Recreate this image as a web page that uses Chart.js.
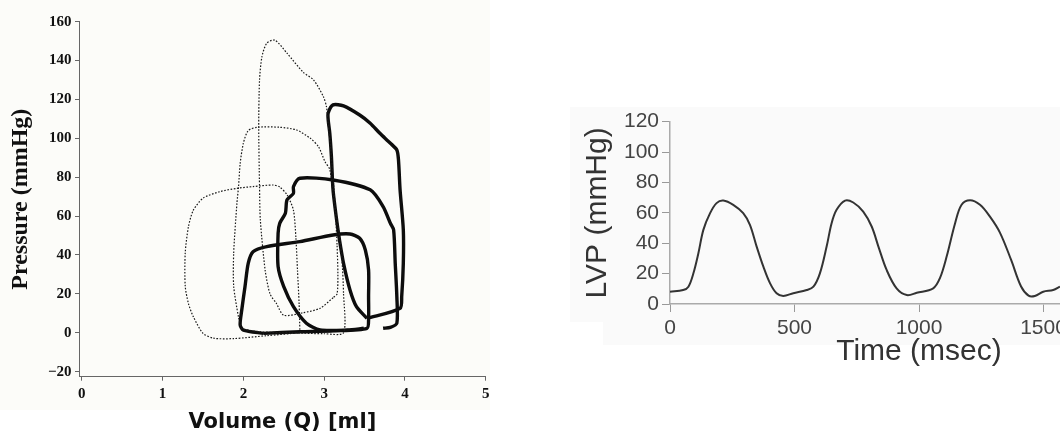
<!DOCTYPE html>
<html>
<head>
<meta charset="utf-8">
<script src="https://cdn.jsdelivr.net/npm/chart.js@4.4.1/dist/chart.umd.min.js"></script>
<style>
  html, body { margin: 0; padding: 0; width: 1060px; height: 433px; overflow: hidden; background: #ffffff; }
  .bg { position: absolute; }
  canvas { position: absolute; top: 0; }
</style>
</head>
<body>
<div class="bg" style="left:0;top:0;width:490px;height:410px;background:#fcfcf9;"></div>
<div class="bg" style="left:570px;top:107px;width:490px;height:215px;background:#fafafa;"></div>
<div class="bg" style="left:603px;top:322px;width:457px;height:23px;background:#fafafa;"></div>
<canvas id="pv" width="500" height="433" style="left:0;"></canvas>
<canvas id="lvp" width="700" height="433" style="left:560px;"></canvas>
<script>
// ---------- Left panel: pressure-volume loops ----------
const volumeTicks = [0, 1, 2, 3, 4, 5];
const pressureTicks = [-20, 0, 20, 40, 60, 80, 100, 120, 140, 160];

// thin dotted loops
const loopA_vol = [3.11, 2.95, 2.74, 2.50, 2.41, 2.33, 2.27, 2.21, 2.20, 2.19, 2.20, 2.23, 2.29, 2.39, 2.54, 2.74, 2.87, 2.99, 3.03, 3.05, 3.08, 3.11, 3.14, 3.16, 3.17, 3.16, 3.11];
const loopA_prs = [18, 12.6, 10.3, 9, 15, 20, 32, 58, 75, 106, 130, 142, 149, 150.5, 143.8, 134, 130, 121.5, 116, 107, 95, 80, 62, 45, 30, 20, 18];

const loopB_vol = [1.98, 1.94, 1.88, 1.88, 1.92, 1.94, 1.96, 2.00, 2.06, 2.17, 2.45, 2.66, 2.83, 2.93, 3.01, 3.07, 3.13, 3.18, 3.22, 3.24, 3.24, 3.00, 2.60, 2.20, 1.98];
const loopB_prs = [2, 8, 24, 41, 66.6, 75, 87, 97.5, 104, 105.7, 105.7, 104.3, 100, 95.7, 88, 84, 65, 53, 38, 20, 0, -0.5, 0, 0.5, 2];

const loopC_vol = [2.70, 2.69, 2.67, 2.65, 2.62, 2.54, 2.45, 2.37, 2.12, 1.92, 1.71, 1.50, 1.38, 1.32, 1.28, 1.28, 1.32, 1.38, 1.50, 1.63, 1.88, 2.29, 2.70];
const loopC_prs = [0, 15, 32, 49, 63, 71, 75, 76, 75.2, 74.3, 72.6, 69.2, 63, 54.6, 41, 24, 15, 8.3, -0.3, -2.8, -3, -1.5, 0];

// thick loops
const loopD_vol = [3.53, 3.94, 3.96, 3.98, 3.98, 3.94, 3.92, 3.90, 3.82, 3.69, 3.57, 3.44, 3.24, 3.11, 3.05, 3.05, 3.07, 3.09, 3.11, 3.16, 3.19, 3.24, 3.32, 3.40, 3.53];
const loopD_prs = [7.4, 12.6, 18.6, 35.7, 53, 73.5, 89, 94, 97.5, 102.6, 107.8, 112, 116.7, 117.2, 113, 109.5, 102.6, 90.6, 73.5, 56.3, 47.7, 35.7, 22, 13.4, 7.4];

const loopE_vol = [3.49, 3.29, 2.95, 2.78, 2.62, 2.50, 2.43, 2.43, 2.45, 2.52, 2.54, 2.62, 2.62, 2.70, 3.11, 3.57, 3.73, 3.82, 3.86, 3.88, 3.90, 3.90, 3.82, 3.73];
const loopE_prs = [2.3, 1.4, 1.4, 4.9, 13.4, 23.7, 34, 51.2, 56.3, 61.5, 68.3, 71.7, 75.2, 79.5, 78.6, 73.5, 64.9, 56.3, 52.9, 35.7, 18.6, 4.9, 2.8, 2.3];

const loopF_vol = [2.25, 2.70, 3.11, 3.53, 3.55, 3.55, 3.55, 3.51, 3.44, 3.32, 3.11, 2.70, 2.29, 2.12, 2.06, 2.02, 1.98, 1.96, 2.00, 2.25];
const loopF_prs = [-0.3, 0.5, 1, 2.3, 7.4, 18.6, 32.3, 42.6, 48.6, 50.8, 50.3, 46.9, 44.3, 41.7, 35.7, 23.7, 11.7, 4, 1.4, -0.3];

// ---------- Right panel: LVP vs time ----------
const timeTicks = [0, 500, 1000, 1500];
const lvpTicks = [0, 20, 40, 60, 80, 100, 120];
const time_ms = [0, 53, 74, 94, 114, 134, 161, 187, 214, 254, 294, 321, 348, 375, 402, 428, 455, 495, 549, 576, 602, 629, 649, 669, 703, 736, 776, 810, 837, 870, 910, 951, 991, 1057, 1084, 1111, 1145, 1171, 1205, 1245, 1285, 1325, 1370, 1410, 1440, 1465, 1499, 1539, 1566];
const lvp_mmHg = [8.1, 9.2, 11.4, 20.2, 33.4, 48.8, 59.8, 66.4, 68.1, 65.3, 59.8, 52.1, 37.8, 24.6, 13.6, 7.1, 5.3, 7.1, 9.2, 11.4, 20.2, 37.8, 53.2, 62, 68.1, 66.8, 60.8, 51, 37.8, 22.4, 10.3, 5.9, 7.4, 10.3, 17, 31.2, 53.2, 65.3, 68.3, 65.3, 57.5, 47, 29, 11.5, 5.5, 5.3, 8.1, 9.2, 11.4];

function pts(xs, ys) { return xs.map((x, i) => ({ x: x, y: ys[i] })); }
function keepTicks(list) {
  return function (scale) {
    scale.ticks = list.filter(v => v >= scale.min - 1e-9 && v <= scale.max + 1e-9).map(v => ({ value: v }));
  };
}

const thin = { showLine: true, borderColor: '#1a1a1a', borderWidth: 1.2, borderDash: [1.6, 1.6], pointRadius: 0, tension: 0.25, fill: false };
const thick = { showLine: true, borderColor: '#0d0d0d', borderWidth: 3.4, pointRadius: 0, tension: 0.25, fill: false };

new Chart(document.getElementById('pv'), {
  type: 'scatter',
  data: {
    datasets: [
      Object.assign({ label: 'A', data: pts(loopA_vol, loopA_prs) }, thin),
      Object.assign({ label: 'B', data: pts(loopB_vol, loopB_prs) }, thin),
      Object.assign({ label: 'C', data: pts(loopC_vol, loopC_prs) }, thin),
      Object.assign({ label: 'D', data: pts(loopD_vol, loopD_prs) }, thick),
      Object.assign({ label: 'E', data: pts(loopE_vol, loopE_prs) }, thick),
      Object.assign({ label: 'F', data: pts(loopF_vol, loopF_prs) }, thick)
    ]
  },
  options: {
    responsive: false,
    animation: false,
    devicePixelRatio: 1,
    layout: { padding: { top: 21.7, right: 14.3, left: 0, bottom: 0 } },
    plugins: { legend: { display: false }, tooltip: { enabled: false } },
    scales: {
      x: {
        type: 'linear', min: -0.035, max: 5,
        ticks: { stepSize: 1, padding: 4.3, color: '#111', font: { family: 'Liberation Serif', size: 15, weight: 'bold' },
                 callback: v => String(v) },
        afterBuildTicks: keepTicks(volumeTicks),
        afterFit: function (s) { s.height = 56.3; },
        grid: { drawOnChartArea: false, tickLength: 4, color: '#666' },
        border: { color: '#666', width: 1 },
        title: { display: true, text: 'Volume (Q) [ml]', color: '#111', padding: { top: 0, bottom: 0 },
                 font: { family: 'DejaVu Sans', size: 21, weight: 'bold', lineHeight: 1 } }
      },
      y: {
        type: 'linear', min: -22.6, max: 160,
        ticks: { stepSize: 20, padding: 3.5, color: '#111', font: { family: 'Liberation Serif', size: 15, weight: 'bold' },
                 callback: v => (v < 0 ? '\u2212' + Math.abs(v) : String(v)) },
        afterBuildTicks: keepTicks(pressureTicks),
        afterFit: function (s) { s.width = 79; },
        grid: { drawOnChartArea: false, tickLength: 4, color: '#666' },
        border: { color: '#666', width: 1 },
        title: { display: true, text: 'Pressure (mmHg)', color: '#111', padding: { top: 6.8, bottom: 0 },
                 font: { family: 'Liberation Serif', size: 24, weight: 'bold' } }
      }
    }
  }
});

new Chart(document.getElementById('lvp'), {
  type: 'line',
  data: {
    datasets: [{
      label: 'LVP', data: pts(time_ms, lvp_mmHg),
      borderColor: '#333', borderWidth: 2, pointRadius: 0, tension: 0.35, fill: false
    }]
  },
  options: {
    responsive: false,
    animation: false,
    devicePixelRatio: 1,
    layout: { padding: { top: 121.7, right: 92, left: 0, bottom: 0 } },
    plugins: { legend: { display: false }, tooltip: { enabled: false } },
    scales: {
      x: {
        type: 'linear', min: 0, max: 2000,
        ticks: { stepSize: 500, padding: 3.4, color: '#444', font: { family: 'Liberation Sans', size: 21 },
                 callback: v => String(v) },
        afterBuildTicks: keepTicks(timeTicks),
        afterFit: function (s) { s.height = 129; },
        grid: { drawOnChartArea: false, tickLength: 8, color: '#999' },
        border: { color: '#aaa', width: 1.5 },
        title: { display: true, text: 'Time (msec)', color: '#333', padding: { top: 0, bottom: 63 },
                 font: { family: 'Liberation Sans', size: 30 } }
      },
      y: {
        type: 'linear', min: 0, max: 120,
        ticks: { stepSize: 20, padding: 3, color: '#444', font: { family: 'Liberation Sans', size: 21 },
                 callback: v => String(v) },
        afterBuildTicks: keepTicks(lvpTicks),
        afterFit: function (s) { s.width = 110; },
        grid: { drawOnChartArea: false, tickLength: 8, color: '#999' },
        border: { color: '#aaa', width: 1.5 },
        title: { display: true, text: 'LVP (mmHg)', color: '#333', padding: { top: 19.6, bottom: 0 },
                 font: { family: 'Liberation Sans', size: 30 } }
      }
    }
  }
});
</script>
</body>
</html>
